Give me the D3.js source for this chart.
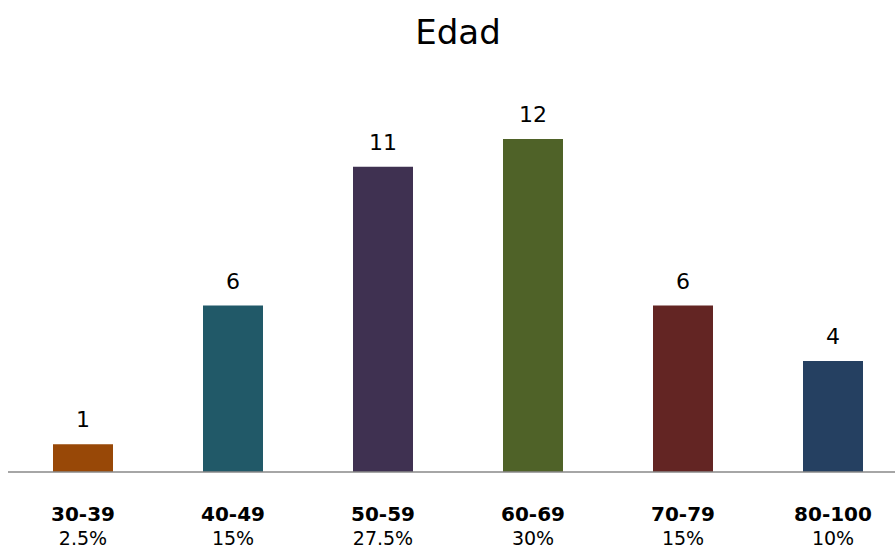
<!DOCTYPE html>
<html><head><meta charset="utf-8">
<script src="https://cdn.jsdelivr.net/npm/d3@7"></script>
<style>body{margin:0;background:#fff}svg{display:block}</style>
</head><body>
<svg id="c" width="895" height="550"></svg>
<script>
const title = "Edad";
const categories = ["30-39","40-49","50-59","60-69","70-79","80-100"];
const values = [1, 6, 11, 12, 6, 4];
const percents = ["2.5%","15%","27.5%","30%","15%","10%"];
const colors = ["#984807","#215968","#3F3151","#4F6228","#632523","#254061"];

const svg = d3.select("#c");
const FONT = "'DejaVu Sans', sans-serif";
const x = d3.scaleBand().domain(categories).range([8, 908]).paddingInner(0.6).paddingOuter(0.3);
const y = d3.scaleLinear().domain([0, 12]).range([472, 139]);

svg.append("text").attr("x", 458).attr("y", 44).attr("text-anchor","middle")
  .attr("font-family", FONT).attr("font-size", 34).attr("fill","#000").text(title);

svg.selectAll("rect.bar").data(values).join("rect").attr("class","bar")
  .attr("x",(d,i)=>x(categories[i])).attr("width",x.bandwidth())
  .attr("y",d=>y(d)).attr("height",d=>y(0)-y(d)).attr("fill",(d,i)=>colors[i]);

svg.append("line").attr("x1",8).attr("x2",895).attr("y1",472).attr("y2",472)
  .attr("stroke","#898989").attr("stroke-width",1.5);

svg.selectAll("text.val").data(values).join("text").attr("class","val")
  .attr("x",(d,i)=>x(categories[i])+x.bandwidth()/2).attr("y",d=>y(d)-17)
  .attr("text-anchor","middle").attr("font-family",FONT).attr("font-size",22).attr("fill","#000")
  .text(d=>d);

svg.selectAll("text.cat").data(categories).join("text").attr("class","cat")
  .attr("x",d=>x(d)+x.bandwidth()/2).attr("y",521)
  .attr("text-anchor","middle").attr("font-family",FONT).attr("font-weight","bold")
  .attr("font-size",20).attr("fill","#000").text(d=>d);

svg.selectAll("text.pct").data(percents).join("text").attr("class","pct")
  .attr("x",(d,i)=>x(categories[i])+x.bandwidth()/2).attr("y",545)
  .attr("text-anchor","middle").attr("font-family",FONT)
  .attr("font-size",19).attr("fill","#000").text(d=>d);
</script>
</body></html>
